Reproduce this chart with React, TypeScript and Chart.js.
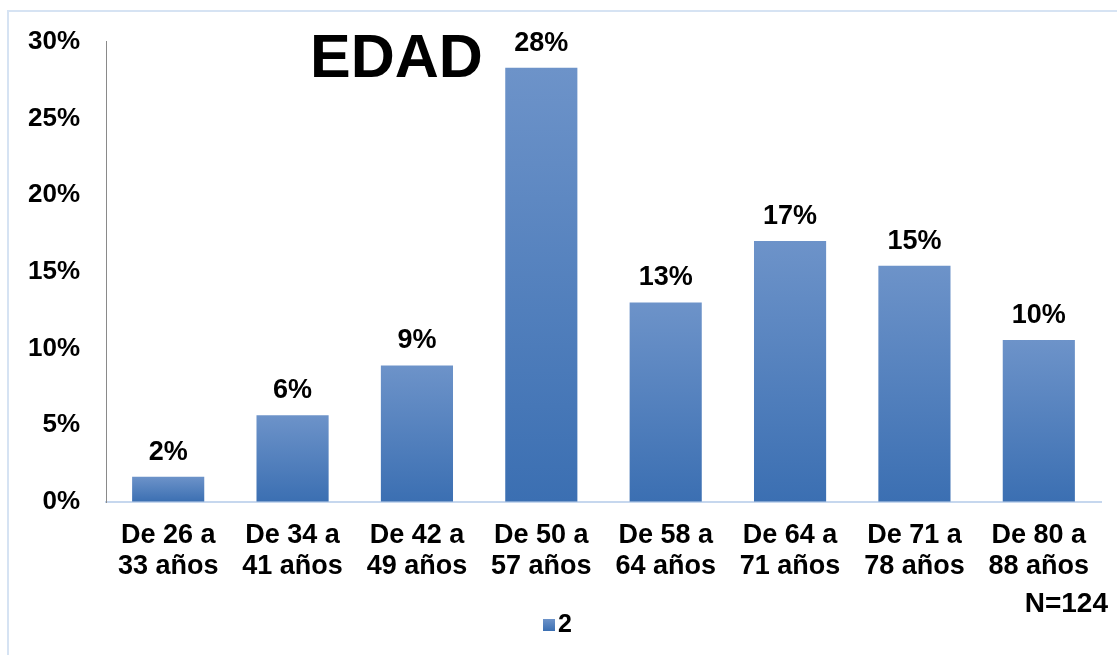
import React, { useEffect, useRef } from "react";
import { Chart, registerables } from "chart.js";

Chart.register(...registerables);

const categories: string[][] = [
  ["De 26 a", "33 años"],
  ["De 34 a", "41 años"],
  ["De 42 a", "49 años"],
  ["De 50 a", "57 años"],
  ["De 58 a", "64 años"],
  ["De 64 a", "71 años"],
  ["De 71 a", "78 años"],
  ["De 80 a", "88 años"],
];
const values: number[] = [1.65, 5.65, 8.9, 28.3, 13.0, 17.0, 15.4, 10.55];
const valueLabels: string[] = ["2%", "6%", "9%", "28%", "13%", "17%", "15%", "10%"];
const seriesName = "2";
const titleText = "EDAD";
const noteText = "N=124";

const FONT = '"Liberation Sans", Arial, sans-serif';
const TOP_COLOR = "#6d93c9";
const BOTTOM_COLOR = "#3b6fb2";

const overlayPlugin = {
  id: "overlay",
  afterDatasetsDraw(chart: any) {
    const ctx = chart.ctx;
    const meta = chart.getDatasetMeta(0);
    ctx.save();
    ctx.fillStyle = "#000";
    ctx.font = `bold 27px ${FONT}`;
    ctx.textAlign = "center";
    ctx.textBaseline = "alphabetic";
    meta.data.forEach((el: any, i: number) => {
      ctx.fillText(valueLabels[i], el.x, el.y - 17);
    });
    ctx.restore();
  },
  afterDraw(chart: any) {
    const ctx = chart.ctx;
    ctx.save();
    ctx.fillStyle = "#000";
    ctx.font = `bold 61px ${FONT}`;
    ctx.textAlign = "left";
    ctx.textBaseline = "alphabetic";
    ctx.fillText(titleText, 310, 77);

    ctx.font = `bold 28px ${FONT}`;
    ctx.textAlign = "right";
    ctx.textBaseline = "middle";
    ctx.fillText(noteText, 1108, 604);

    const g = ctx.createLinearGradient(0, 619, 0, 631);
    g.addColorStop(0, TOP_COLOR);
    g.addColorStop(1, BOTTOM_COLOR);
    ctx.fillStyle = g;
    ctx.fillRect(543, 619, 12, 12);
    ctx.fillStyle = "#000";
    ctx.font = `bold 25px ${FONT}`;
    ctx.textAlign = "left";
    ctx.fillText(seriesName, 558, 625);
    ctx.restore();
  },
};

export default function App() {
  const ref = useRef<HTMLCanvasElement | null>(null);
  useEffect(() => {
    if (!ref.current) return;
    const chart = new Chart(ref.current, {
      type: "bar",
      data: {
        labels: categories,
        datasets: [
          {
            label: seriesName,
            data: values,
            backgroundColor: (c: any) => {
              const ch = c.chart;
              const y = ch.scales && ch.scales.y;
              if (c.type !== "data" || !y || !ch.chartArea) return BOTTOM_COLOR;
              const top = y.getPixelForValue(c.raw);
              const base = y.getPixelForValue(0);
              const g = ch.ctx.createLinearGradient(0, top, 0, base);
              g.addColorStop(0, TOP_COLOR);
              g.addColorStop(1, BOTTOM_COLOR);
              return g;
            },
            borderWidth: 0,
            barPercentage: 0.58,
            categoryPercentage: 1,
          },
        ],
      },
      options: {
        responsive: false,
        animation: false,
        devicePixelRatio: 1,
        layout: { padding: { left: 0, right: 16, top: 40, bottom: 0 } },
        plugins: {
          legend: { display: false },
          tooltip: { enabled: false },
          title: { display: false },
        },
        scales: {
          x: {
            grid: { display: true, color: "transparent", drawTicks: false },
            border: { display: true, color: "#c6d7ee", width: 2 },
            ticks: {
              color: "#000",
              font: { family: FONT, size: 27, weight: "bold", lineHeight: 1.15 },
              padding: 18,
              maxRotation: 0,
              autoSkip: false,
            },
            afterFit: (s: any) => {
              s.height = 655 - 502;
            },
          },
          y: {
            min: 0,
            max: 30,
            grid: { display: true, color: "transparent", drawTicks: false },
            border: { display: true, color: "#8a8a8a", width: 1 },
            ticks: {
              stepSize: 5,
              color: "#000",
              font: { family: FONT, size: 26, weight: "bold" },
              padding: 26,
              callback: (v: any) => `${v}%`,
            },
            afterFit: (s: any) => {
              s.width = 106;
            },
          },
        },
      },
      plugins: [overlayPlugin],
    });
    return () => chart.destroy();
  }, []);

  return (
    <div style={{ position: "fixed", left: 0, top: 0, width: 1117, height: 655, background: "#fff", overflow: "hidden" }}>
      <div
        style={{
          position: "absolute",
          left: 7,
          top: 10,
          width: 1200,
          height: 700,
          borderLeft: "2px solid #d6e3f3",
          borderTop: "2px solid #d6e3f3",
        }}
      />
      <canvas
        ref={ref}
        width={1117}
        height={655}
        style={{ position: "absolute", left: 0, top: 0, width: 1117, height: 655 }}
      />
    </div>
  );
}
